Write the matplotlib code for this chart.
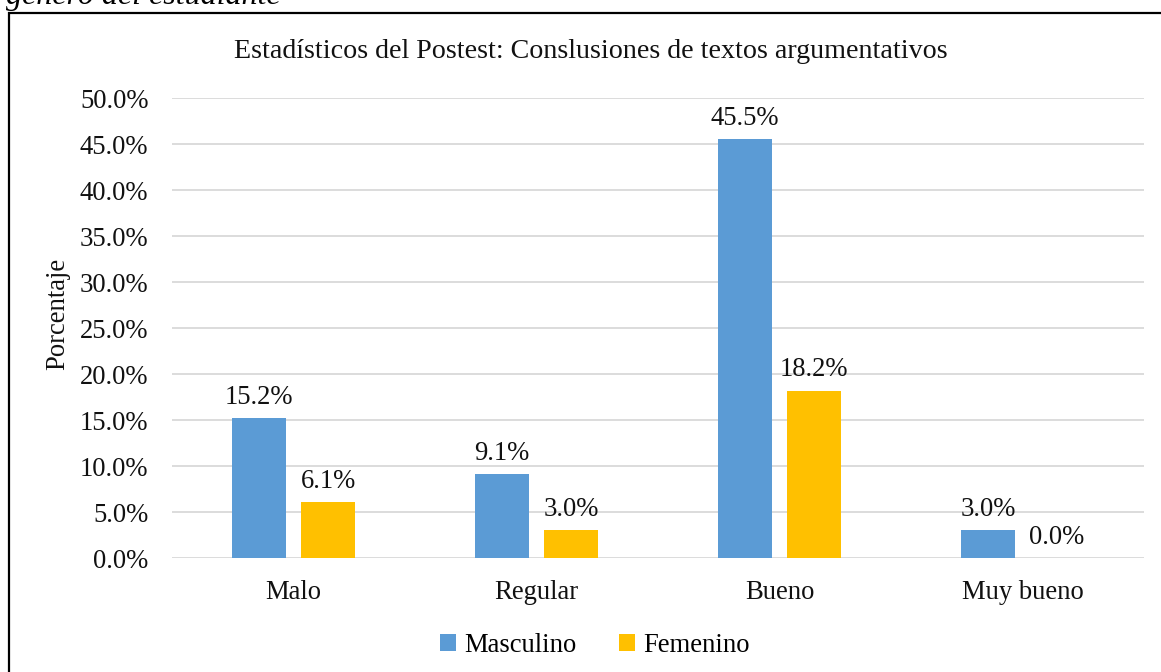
import matplotlib
matplotlib.use("Agg")
import matplotlib.pyplot as plt
import matplotlib.patches as mpatches
import numpy as np

categories = ["Malo", "Regular", "Bueno", "Muy bueno"]
masculino = [15.2, 9.1, 45.5, 3.0]
femenino = [6.1, 3.0, 18.2, 0.0]
series_names = ["Masculino", "Femenino"]
yticks = [0, 5, 10, 15, 20, 25, 30, 35, 40, 45, 50]
title = "Estadísticos del Postest: Conslusiones de textos argumentativos"
ylabel = "Porcentaje"
caption = "género del estudiante"

plt.rcParams['font.family'] = ['Liberation Serif', 'DejaVu Serif']

W, H = 1161, 672
fig = plt.figure(figsize=(W / 100, H / 100), dpi=100)
ax = fig.add_axes([172 / W, 1 - 558 / H, (1144 - 172) / W, (558 - 98) / H])

x = np.arange(len(categories))
bw = 0.226
off = 0.142
c_m = "#5B9BD5"
c_f = "#FFC000"
FS = 19.2
b1 = ax.bar(x - off, masculino, bw, color=c_m, label=series_names[0], zorder=3)
b2 = ax.bar(x + off, femenino, bw, color=c_f, label=series_names[1], zorder=3)

for bars, vals in ((b1, masculino), (b2, femenino)):
    for r, v in zip(bars, vals):
        ax.annotate(f"{v:.1f}%", (r.get_x() + r.get_width() / 2, v),
                    xytext=(0, 6), textcoords="offset points",
                    ha="center", va="bottom", fontsize=FS, color="#111111")

ax.set_xlim(-0.5, len(categories) - 0.5)
ax.set_ylim(0, 50)
ax.set_yticks(yticks)
ax.set_yticklabels([f"{t:.1f}%" for t in yticks])
ax.set_xticks(x)
ax.set_xticklabels(categories)
ax.tick_params(axis="both", length=0, labelsize=FS, colors="#111111")
ax.tick_params(axis="y", pad=17)
ax.tick_params(axis="x", pad=16)
ax.grid(axis="y", color="#D9D9D9", linewidth=1.3, zorder=0)
for s in ax.spines.values():
    s.set_visible(False)
ax.set_ylabel(ylabel, fontsize=FS, color="#111111")
ax.yaxis.set_label_coords(-0.105, 0.53)

fig.text(591 / W, 1 - 52 / H, title, ha="center", va="center", fontsize=20.2, color="#111111")

leg = fig.legend(handles=[b1, b2], loc="center", bbox_to_anchor=(595 / W, 1 - 645 / H),
                 ncol=2, frameon=False, fontsize=FS, handlelength=0.6, handleheight=0.6,
                 handletextpad=0.3, columnspacing=1.6)

# outer border (partially visible frame)
fig.add_artist(mpatches.Rectangle((9 / W, -0.2), 2.0, 1.2 - 12.5 / H,
                                  transform=fig.transFigure, fill=False,
                                  edgecolor="black", linewidth=1.6, clip_on=False))
# cut-off caption at top
fig.text(6 / W, 1 - 4 / H, caption, ha="left", va="baseline", fontsize=23,
         style="italic", color="black")

fig.savefig("out.png", dpi=100)
